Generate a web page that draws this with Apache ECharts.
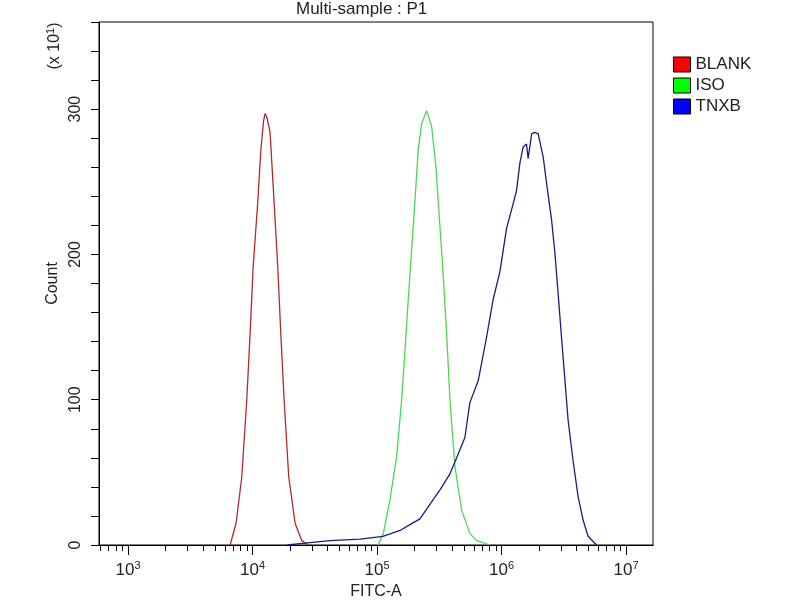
<!DOCTYPE html>
<html>
<head>
<meta charset="utf-8">
<title>Multi-sample : P1</title>
<script src="https://cdn.jsdelivr.net/npm/echarts@6/dist/echarts.min.js"></script>
<style>
  html, body { margin: 0; padding: 0; background: #fff; }
  #chart { width: 800px; height: 600px; }
</style>
</head>
<body>
<div id="chart"></div>
<script>
// x values are log10(FITC-A), y values are counts (x 10^1)
const seriesNames = ['BLANK', 'ISO', 'TNXB'];

const blankLog = [3.820, 3.868, 3.914, 3.954, 3.981, 4.005, 4.043, 4.067, 4.089, 4.101,
  4.117, 4.141, 4.173, 4.203, 4.227, 4.254, 4.291, 4.342, 4.396, 4.446];
const blankCount = [0, 15, 47, 100, 146, 191, 237, 272, 292, 297,
  294, 284, 237, 191, 146, 100, 47, 15, 3, 0];

const isoLog = [5.010, 5.051, 5.104, 5.158, 5.198, 5.225, 5.251, 5.278, 5.305, 5.331, 5.359,
  5.399, 5.439, 5.474, 5.500, 5.527, 5.559, 5.586, 5.626, 5.680, 5.746, 5.800, 5.907];
const isoCount = [0, 8, 31, 61, 100, 134, 169, 203, 237, 272, 290,
  299, 288, 260, 226, 192, 146, 100, 54, 24, 8, 3, 0];

const tnxbLog = [4.278, 4.382, 4.623, 4.864, 5.048, 5.185, 5.265, 5.345, 5.425, 5.506,
  5.586, 5.640, 5.706, 5.746, 5.813, 5.880, 5.933, 5.987, 6.041, 6.094,
  6.121, 6.148, 6.174, 6.201, 6.214, 6.242, 6.268, 6.295, 6.335, 6.362,
  6.402, 6.429, 6.455, 6.482, 6.509, 6.535, 6.575, 6.616, 6.656, 6.696, 6.763];
const tnxbCount = [0, 1, 3, 4, 6, 10, 14, 18, 28, 38,
  49, 60, 74, 98, 113, 143, 169, 188, 218, 235,
  244, 263, 274, 276, 266, 283, 284, 283, 267, 249,
  224, 201, 173, 143, 114, 86, 58, 33, 17, 6, 0];

const decadeTicks = [3, 4, 5, 6, 7];
const minorTicks = [
  2.778, 2.845, 2.903, 2.954,
  3.301, 3.477, 3.602, 3.699, 3.778, 3.845, 3.903, 3.954,
  4.301, 4.477, 4.602, 4.699, 4.778, 4.845, 4.903, 4.954,
  5.301, 5.477, 5.602, 5.699, 5.778, 5.845, 5.903, 5.954,
  6.301, 6.477, 6.602, 6.699, 6.778, 6.845, 6.903, 6.954
];
const xMin = 2.767;
const xMax = 7.217;

const lineColors = ['#b02a2a', '#4fd64f', '#1c1c7a'];
const legendColors = ['#ff0000', '#00ff00', '#0000ff'];

const zip = (xs, ys) => xs.map((x, i) => [x, ys[i]]);
const seriesData = [zip(blankLog, blankCount), zip(isoLog, isoCount), zip(tnxbLog, tnxbCount)];

const font = '"Liberation Sans", Arial, sans-serif';
const chart = echarts.init(document.getElementById('chart'));

const option = {
  animation: false,
  textStyle: { fontFamily: font },
  title: {
    text: 'Multi-sample : P1',
    left: 291,
    top: -4,
    textStyle: { fontSize: 17, fontWeight: 'normal', color: '#222', fontFamily: font },
  },
  legend: {
    orient: 'vertical',
    left: 668,
    top: 51,
    itemWidth: 17,
    itemHeight: 15,
    itemGap: 4,
    icon: 'rect',
    textStyle: { fontSize: 17, color: '#222', fontFamily: font },
    data: seriesNames.map((name, i) => ({
      name,
      itemStyle: { color: legendColors[i], borderColor: '#000', borderWidth: 1 },
    })),
  },
  grid: {
    left: 99,
    right: 147,
    top: 22,
    bottom: 55,
    outerBoundsMode: 'none',
    containLabel: false,
    show: true,
    borderColor: '#000',
    borderWidth: 1,
  },
  xAxis: [
    {
      type: 'value',
      min: xMin,
      max: xMax,
      position: 'bottom',
      splitLine: { show: false },
      axisLine: { lineStyle: { color: '#000', width: 1 } },
      axisTick: { customValues: minorTicks, length: 6, lineStyle: { color: '#000' } },
      axisLabel: { show: false },
    },
    {
      type: 'value',
      min: xMin,
      max: xMax,
      position: 'bottom',
      splitLine: { show: false },
      axisLine: { lineStyle: { color: '#000', width: 1 } },
      axisTick: { customValues: decadeTicks, length: 10, lineStyle: { color: '#000' } },
      axisLabel: {
        customValues: decadeTicks,
        margin: 15,
        color: '#222',
        formatter: (v) => '{b|10}{e|' + v + '}',
        rich: {
          b: { fontSize: 17, fontFamily: font, color: '#222' },
          e: { fontSize: 11, fontFamily: font, color: '#222', padding: [0, 0, 10, 0] },
        },
      },
      name: 'FITC-A',
      nameLocation: 'middle',
      nameGap: 38,
      nameTextStyle: { fontSize: 16, color: '#222', fontFamily: font },
    },
  ],
  yAxis: {
    type: 'value',
    min: 0,
    max: 360,
    interval: 20,
    splitLine: { show: false },
    axisLine: { show: true, lineStyle: { color: '#000', width: 1 } },
    axisTick: { show: true, length: 8, lineStyle: { color: '#000' } },
    axisLabel: {
      rotate: 90,
      margin: 15,
      fontSize: 16,
      color: '#222',
      fontFamily: font,
      formatter: (v) => (v % 100 === 0 && v < 360 ? String(v) : ''),
    },
    name: 'Count',
    nameLocation: 'middle',
    nameRotate: 90,
    nameGap: 32,
    nameTextStyle: { fontSize: 16, color: '#222', fontFamily: font },
  },
  graphic: [
    {
      type: 'text',
      x: 55,
      y: 46,
      rotation: Math.PI / 2,
      style: {
        text: '(x 10{s|1})',
        fontSize: 16,
        fontFamily: font,
        fill: '#222',
        align: 'center',
        verticalAlign: 'middle',
        rich: { s: { fontSize: 11, fontFamily: font, fill: '#222', padding: [0, 0, 9, 0] } },
      },
    },
  ],
  series: seriesNames.map((name, i) => ({
    name,
    type: 'line',
    xAxisIndex: 0,
    data: seriesData[i],
    showSymbol: false,
    symbol: 'none',
    color: legendColors[i],
    lineStyle: { color: lineColors[i], width: 1.3 },
  })),
};

chart.setOption(option);
</script>
</body>
</html>
